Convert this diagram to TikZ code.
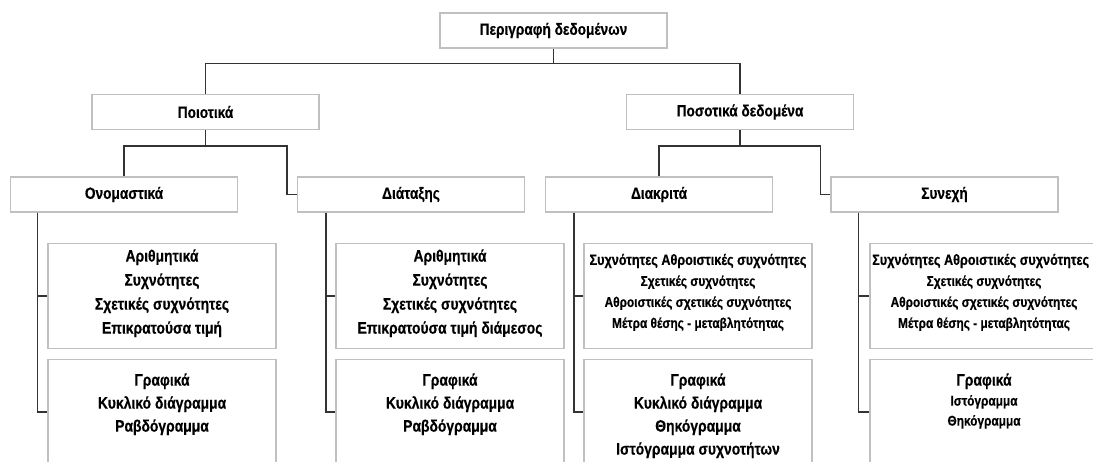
\documentclass[tikz,border=0pt]{standalone}
\usepackage{fontspec}
\setmainfont[FakeStretch=0.84, BoldFeatures={FakeBold=0.4}]{Liberation Sans}
\newcommand\myBig{\bfseries\fontsize{12.4pt}{18pt}\selectfont}
\newcommand\myHead{\bfseries\fontsize{12.2pt}{14pt}\selectfont}
\newcommand\myBigL{\bfseries\fontsize{11.3pt}{18pt}\selectfont}
\newcommand\myBigB{\bfseries\fontsize{12.4pt}{17.25pt}\selectfont}
\newcommand\mySmall{\bfseries\fontsize{10.6pt}{15.75pt}\selectfont}
\newcommand\mySmallB{\bfseries\fontsize{10.6pt}{15pt}\selectfont}
\newcommand\tline[1]{\makebox[\linewidth][c]{#1}\par}
\newcommand\subcontent[1]{\begin{minipage}[t][78.75pt][t]{171pt}#1\end{minipage}}
\definecolor{boxgray}{HTML}{C0C0C0}
\definecolor{linegray}{HTML}{333333}
\tikzset{
  hbox/.style={draw=boxgray, line width=0.9pt, fill=white, minimum width=170.25pt,
    minimum height=26.25pt, inner sep=0pt, font=\myHead},
  sbox/.style={draw=boxgray, line width=0.9pt, fill=white, inner sep=0pt, anchor=north},
  conn/.style={draw=linegray, line width=1.05pt}
}
\begin{document}
\begin{tikzpicture}[x=0.75pt,y=-0.75pt]
\useasboundingbox (0,0) rectangle (1093,461);
\fill[white] (0,0) rectangle (1093,461);
\clip (0,0) rectangle (1093,461);

% headers
\node[hbox] (root) at (553.5,30.5) {Περιγραφή δεδομένων};
\node[hbox] (poi)  at (205.5,112) {Ποιοτικά};
\node[hbox] (pos)  at (740,112) {Ποσοτικά δεδομένα};
\node[hbox] (ono)  at (124,194.5) {Ονομαστικά};
\node[hbox] (dia)  at (411,194.5) {Διάταξης};
\node[hbox] (dk)   at (659,194.5) {Διακριτά};
\node[hbox] (syn)  at (944.5,194.5) {Συνεχή};

% sub boxes row 1
\node[sbox] (ono1) at (162,243) {\subcontent{\myBig
  \tline{\rule{0pt}{13.5pt}Αριθμητικά}\tline{Συχνότητες}\tline{Σχετικές συχνότητες}\tline{Επικρατούσα τιμή}}};
\node[sbox] (dia1) at (450,243) {\subcontent{\myBig
  \tline{\rule{0pt}{13.5pt}Αριθμητικά}\tline{Συχνότητες}\tline{Σχετικές συχνότητες}\tline{Επικρατούσα τιμή διάμεσος}}};
\node[sbox] (dk1) at (698,243) {\subcontent{\myBigL
  \tline{\rule{0pt}{16pt}Συχνότητες Αθροιστικές συχνότητες}\mySmall\tline{Σχετικές συχνότητες}\tline{Αθροιστικές σχετικές συχνότητες}\tline{Μέτρα θέσης - μεταβλητότητας}}};
\node[sbox] (syn1) at (984,243) {\subcontent{\myBigL
  \tline{\rule{0pt}{16pt}\hspace*{-5pt}Συχνότητες Αθροιστικές συχνότητες}\mySmall\tline{Σχετικές συχνότητες}\tline{Αθροιστικές σχετικές συχνότητες}\tline{Μέτρα θέσης - μεταβλητότητας}}};

% sub boxes row 2
\node[sbox] (ono2) at (162,359) {\subcontent{\myBigB
  \tline{\rule{0pt}{19.5pt}Γραφικά}\tline{Κυκλικό διάγραμμα}\tline{Ραβδόγραμμα}}};
\node[sbox] (dia2) at (450,359) {\subcontent{\myBigB
  \tline{\rule{0pt}{19.5pt}Γραφικά}\tline{Κυκλικό διάγραμμα}\tline{Ραβδόγραμμα}}};
\node[sbox] (dk2) at (698,359) {\subcontent{\myBigB
  \tline{\rule{0pt}{19.5pt}Γραφικά}\tline{Κυκλικό διάγραμμα}\tline{Θηκόγραμμα}\tline{Ιστόγραμμα συχνοτήτων}}};
\node[sbox] (syn2) at (984,359) {\subcontent{\myBigB
  \tline{\rule{0pt}{19.5pt}Γραφικά}\mySmallB\tline{Ιστόγραμμα}\tline{Θηκόγραμμα}}};

% connectors top level
\draw[conn] (root.south) -- ([yshift=-11.25pt]root.south);
\draw[conn] (poi.north) |- ([yshift=-11.25pt]root.south) -| (pos.north);

% level 2
\draw[conn] (poi.south) -- ([yshift=-12pt]poi.south);
\draw[conn] (ono.north) |- ([yshift=-12pt]poi.south) -| ([xshift=-7.5pt]dia.west) -- (dia.west);
\draw[conn] (pos.south) -- ([yshift=-12pt]pos.south);
\draw[conn] (dk.north) |- ([yshift=-12pt]pos.south) -| ([xshift=-7.5pt]syn.west) -- (syn.west);

% level 3
\draw[conn] ([xshift=20.6pt]ono.south west) |- (ono1.west);
\draw[conn] ([xshift=20.6pt]ono.south west) |- (ono2.west);
\draw[conn] ([xshift=21.75pt]dia.south west) |- (dia1.west);
\draw[conn] ([xshift=21.75pt]dia.south west) |- (dia2.west);
\draw[conn] ([xshift=21.75pt]dk.south west) |- (dk1.west);
\draw[conn] ([xshift=21.75pt]dk.south west) |- (dk2.west);
\draw[conn] ([xshift=21pt]syn.south west) |- (syn1.west);
\draw[conn] ([xshift=21pt]syn.south west) |- (syn2.west);
\end{tikzpicture}
\end{document}
